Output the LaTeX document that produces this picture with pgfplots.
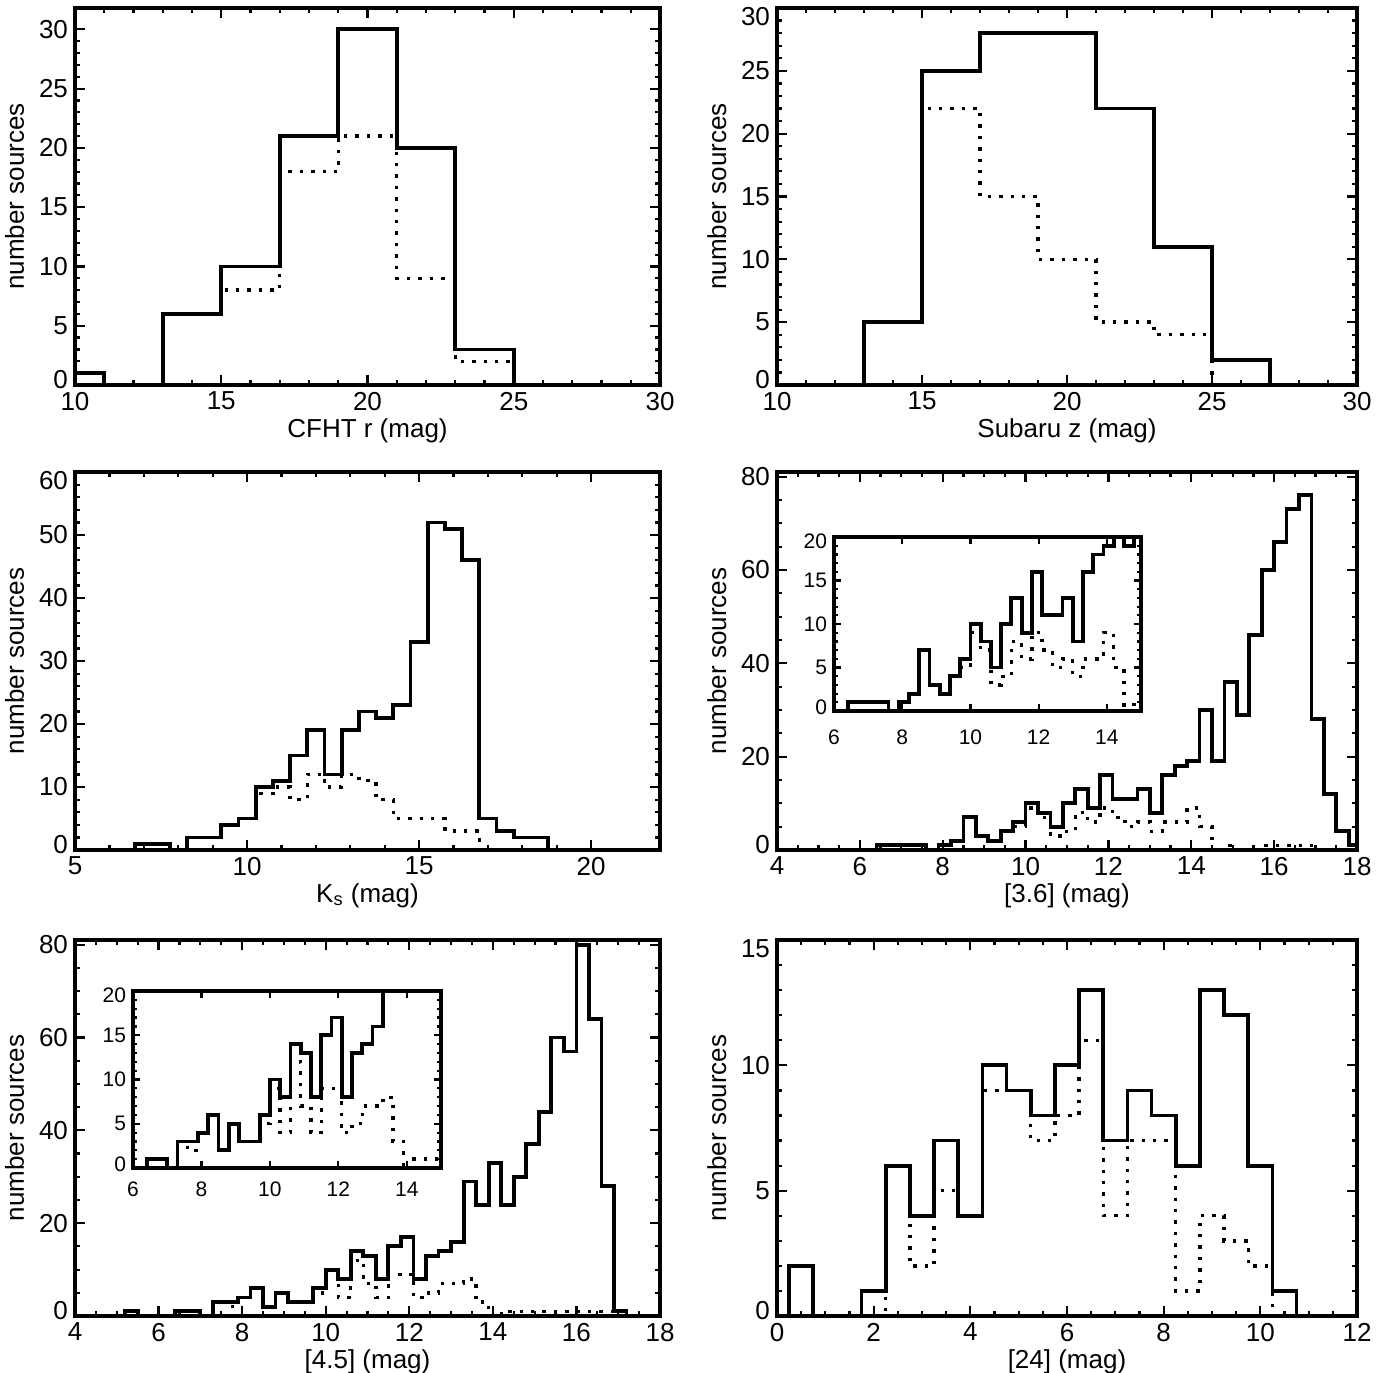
\documentclass[border=0pt]{standalone}
\usepackage{fontspec}
\setmainfont{Liberation Sans}
\usepackage{pgfplots}
\pgfplotsset{compat=1.18}
\pgfplotsset{
  base/.style={
    scale only axis,
    axis line style={line width=1.8pt},
    every tick/.style={black, line width=1.1pt},
    tick align=inside,
    /pgf/number format/assume math mode=true,
    ymin=0,
    axis background/.style={fill=white},
  },
  ylab/.style n args={3}{yticklabel={\pgfmathtruncatemacro\tk{round(\tick)}\ifnum\tk=0 \raisebox{#2}[\height][\depth]{0}\else\ifnum\tk=#1 \raisebox{-#3}[\height][\depth]{\tk}\else\tk\fi\fi}},
  idl/.style={
    base,
    major tick length=5pt, minor tick length=2.6pt,
    tick label style={font=\fontsize{13}{14}\selectfont},
    label style={font=\fontsize{13}{14}\selectfont},
    ylabel={number sources},
    ylabel style={at={(axis description cs:-0.075,0.5)}, anchor=south},
    xlabel style={yshift=3pt},
  },
  inset/.style={
    base,
    major tick length=3.5pt, minor tick length=2pt,
    tick label style={font=\fontsize{10.5}{11}\selectfont},
    xticklabel style={yshift=-3.5pt},
    xmin=6, xmax=15, ymax=20,
    xtick={6,8,...,14}, ytick={0,5,...,20}, minor y tick num=4,
    ylab={20}{2pt}{2pt},
  },
  hist/.style={const plot, black, line width=1.9pt},
  dhist/.style={const plot, black, line width=1.7pt, dash pattern=on 1.7pt off 4pt},
}
\begin{document}
\begin{tikzpicture}
\useasboundingbox (0pt,0pt) rectangle (693.5pt,-686pt);

% ---------------- CFHT r
\begin{axis}[idl, at={(37.5pt,-192.5pt)}, anchor=south west, width=292.5pt, height=188.5pt,
  xmin=10, xmax=30, ymax=31.8, xtick={10,15,...,30}, ytick={0,5,...,30},
  minor x tick num=4, minor y tick num=4, xlabel={CFHT r (mag)}, ylab={999}{2.5pt}{4.5pt}]
\addplot[dhist] coordinates {(9,0)(13,6)(15,8)(17,18)(19,21)(21,9)(23,2)(25,0)(31,0)};
\addplot[hist] coordinates {(9,1)(11,0)(13,6)(15,10)(17,21)(19,30)(21,20)(23,3)(25,0)(31,0)};
\end{axis}

% ---------------- Subaru z
\begin{axis}[idl, at={(388.5pt,-192.5pt)}, anchor=south west, width=290pt, height=188.5pt,
  xmin=10, xmax=30, ymax=30, xtick={10,15,...,30}, ytick={0,5,...,30},
  minor x tick num=4, minor y tick num=4, xlabel={Subaru z (mag)}, ylab={30}{2.5pt}{4.5pt}]
\addplot[dhist] coordinates {(9,0)(13,5)(15,22)(17,15)(19,10)(21,5)(23,4)(25,0)(31,0)};
\addplot[hist] coordinates {(9,0)(13,5)(15,25)(17,28)(19,28)(21,22)(23,11)(25,2)(27,0)(31,0)};
\end{axis}

% ---------------- Ks
\begin{axis}[idl, at={(37.5pt,-425pt)}, anchor=south west, width=292.5pt, height=189pt,
  xmin=5, xmax=22, ymax=60, xtick={5,10,15,20}, ytick={0,10,...,60},
  minor x tick num=4, minor y tick num=4, xlabel={K\textsubscript{s} (mag)}, ylab={60}{2.5pt}{4.5pt}]
\addplot[dhist] coordinates {(4.75,0)(6.75,1)(7.25,1)(7.75,0)(8.25,2)(8.75,2)(9.25,4)(9.75,5)
  (10.25,9)(10.75,10)(11.25,8)(11.75,12)(12.25,10)(12.75,12)(13.25,11)(13.75,8)(14.25,5)
  (14.75,5)(15.25,5)(15.75,3)(16.25,3)(16.75,0)(22.25,0)};
\addplot[hist] coordinates {(4.75,0)(6.75,1)(7.25,1)(7.75,0)(8.25,2)(8.75,2)(9.25,4)(9.75,5)
  (10.25,10)(10.75,11)(11.25,15)(11.75,19)(12.25,12)(12.75,19)(13.25,22)(13.75,21)(14.25,23)
  (14.75,33)(15.25,52)(15.75,51)(16.25,46)(16.75,5)(17.25,3)(17.75,2)(18.25,2)(18.75,0)(22.25,0)};
\end{axis}

% ---------------- [3.6]
\begin{axis}[idl, at={(388.5pt,-425pt)}, anchor=south west, width=290pt, height=189pt,
  xmin=4, xmax=18, ymax=81, xtick={4,6,...,18}, ytick={0,20,...,80},
  minor x tick num=3, minor y tick num=3, xlabel={[3.6] (mag)}, ylab={999}{2.5pt}{4.5pt}]
\addplot[dhist] coordinates {(3.7,0)(7.9,1)(8.2,2)(8.5,7)(8.8,3)(9.1,2)(9.4,4)(9.7,5)(10.0,9)
  (10.3,7)(10.6,3)(10.9,4)(11.2,8)(11.5,6)(11.8,9)(12.1,7)(12.4,5)(12.7,6)(13.0,4)(13.3,6)
  (13.6,6)(13.9,9)(14.2,5)(14.5,0)(14.8,1)(15.1,0)(15.7,1)(16.9,0)(18.1,0)};
\addplot[hist] coordinates {(3.7,0)(6.4,1)(6.7,1)(7.0,1)(7.3,1)(7.6,0)(7.9,1)(8.2,2)(8.5,7)
  (8.8,3)(9.1,2)(9.4,4)(9.7,6)(10.0,10)(10.3,8)(10.6,5)(10.9,10)(11.2,13)(11.5,9)(11.8,16)
  (12.1,11)(12.4,11)(12.7,13)(13.0,8)(13.3,16)(13.6,18)(13.9,19)(14.2,30)(14.5,19)(14.8,36)
  (15.1,29)(15.4,46)(15.7,60)(16.0,66)(16.3,73)(16.6,76)(16.9,28)(17.2,12)(17.5,4)(17.8,1)(18.1,0)};
\end{axis}
\begin{axis}[inset, at={(417pt,-355.5pt)}, anchor=south west, width=153.5pt, height=87pt,
  xticklabel style={yshift=-2.5pt}]
\addplot[dhist] coordinates {(5.5,0)(7.9,1)(8.2,2)(8.5,7)(8.8,3)(9.1,2)(9.4,4)(9.7,5)(10.0,9)
  (10.3,7)(10.6,3)(10.9,4)(11.2,8)(11.5,6)(11.8,9)(12.1,7)(12.4,5)(12.7,6)(13.0,4)(13.3,6)
  (13.6,6)(13.9,9)(14.2,5)(14.5,0)(14.8,1)(15.1,0)};
\addplot[hist] coordinates {(5.5,0)(6.4,1)(6.7,1)(7.0,1)(7.3,1)(7.6,0)(7.9,1)(8.2,2)(8.5,7)
  (8.8,3)(9.1,2)(9.4,4)(9.7,6)(10.0,10)(10.3,8)(10.6,5)(10.9,10)(11.2,13)(11.5,9)(11.8,16)
  (12.1,11)(12.4,11)(12.7,13)(13.0,8)(13.3,16)(13.6,18)(13.9,19)(14.2,30)(14.5,19)(14.8,36)(15.1,29)};
\end{axis}

% ---------------- [4.5]
\begin{axis}[idl, at={(37.5pt,-658pt)}, anchor=south west, width=292.5pt, height=188pt,
  xmin=4, xmax=18, ymax=81, xtick={4,6,...,18}, ytick={0,20,...,80},
  minor x tick num=3, minor y tick num=3, xlabel={[4.5] (mag)}, ylab={999}{2.5pt}{4.5pt}]
\addplot[dhist] coordinates {(3.7,0)(5.2,1)(5.5,0)(6.4,1)(7.0,0)(7.3,3)(7.6,2)(7.9,4)(8.2,6)(8.5,2)
  (8.8,5)(9.1,3)(9.4,3)(9.7,5)(10.0,9)(10.3,4)(10.6,12)(10.9,7)(11.2,4)(11.5,9)(11.8,9)
  (12.1,4)(12.4,5)(12.7,7)(13.0,7)(13.3,8)(13.6,3)(13.9,0)(14.2,1)(16.9,0)(18.1,0)};
\addplot[hist] coordinates {(3.7,0)(5.2,1)(5.5,0)(6.4,1)(6.7,1)(7.0,0)(7.3,3)(7.6,3)(7.9,4)
  (8.2,6)(8.5,2)(8.8,5)(9.1,3)(9.4,3)(9.7,6)(10.0,10)(10.3,8)(10.6,14)(10.9,13)(11.2,8)
  (11.5,15)(11.8,17)(12.1,8)(12.4,13)(12.7,14)(13.0,16)(13.3,29)(13.6,24)(13.9,33)(14.2,24)
  (14.5,30)(14.8,37)(15.1,44)(15.4,60)(15.7,57)(16.0,80)(16.3,64)(16.6,28)(16.9,1)(17.2,0)(18.1,0)};
\end{axis}
\begin{axis}[inset, at={(66.5pt,-584pt)}, anchor=south west, width=154pt, height=88.5pt]
\addplot[dhist] coordinates {(5.5,0)(7.3,3)(7.6,2)(7.9,4)(8.2,6)(8.5,2)
  (8.8,5)(9.1,3)(9.4,3)(9.7,5)(10.0,9)(10.3,4)(10.6,12)(10.9,7)(11.2,4)(11.5,9)(11.8,9)
  (12.1,4)(12.4,5)(12.7,7)(13.0,7)(13.3,8)(13.6,3)(13.9,0)(14.2,1)(15.1,1)};
\addplot[hist] coordinates {(5.5,0)(6.4,1)(6.7,1)(7.0,0)(7.3,3)(7.6,3)(7.9,4)
  (8.2,6)(8.5,2)(8.8,5)(9.1,3)(9.4,3)(9.7,6)(10.0,10)(10.3,8)(10.6,14)(10.9,13)(11.2,8)
  (11.5,15)(11.8,17)(12.1,8)(12.4,13)(12.7,14)(13.0,16)(13.3,29)(13.6,24)(13.9,33)(14.2,24)(14.5,30)(15.1,30)};
\end{axis}

% ---------------- [24]
\begin{axis}[idl, at={(388.5pt,-658pt)}, anchor=south west, width=290pt, height=188pt,
  xmin=0, xmax=12, ymax=15, xtick={0,2,...,12}, ytick={0,5,10,15},
  minor x tick num=3, minor y tick num=4, xlabel={[24] (mag)}, ylab={15}{2.5pt}{4.5pt}]
\addplot[dhist] coordinates {(-0.25,0)(2.25,6)(2.75,2)(3.25,5)(3.75,4)(4.25,9)(4.75,9)(5.25,7)
  (5.75,8)(6.25,11)(6.75,4)(7.25,7)(7.75,7)(8.25,1)(8.75,4)(9.25,3)(9.75,2)(10.25,0)(12.25,0)};
\addplot[hist] coordinates {(-0.25,0)(0.25,2)(0.75,0)(1.75,1)(2.25,6)(2.75,4)(3.25,7)(3.75,4)
  (4.25,10)(4.75,9)(5.25,8)(5.75,10)(6.25,13)(6.75,7)(7.25,9)(7.75,8)(8.25,6)(8.75,13)
  (9.25,12)(9.75,6)(10.25,1)(10.75,0)(12.25,0)};
\end{axis}
\end{tikzpicture}
\end{document}
